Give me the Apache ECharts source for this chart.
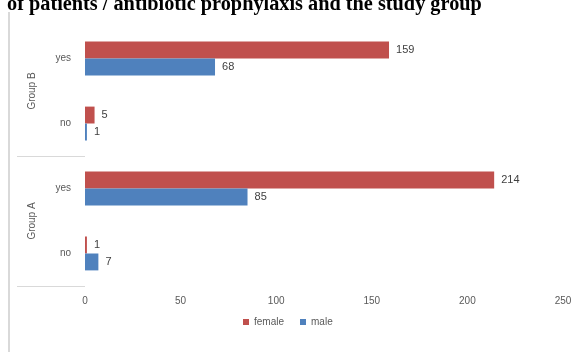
<!DOCTYPE html>
<html>
<head>
<meta charset="utf-8">
<script src="https://cdn.jsdelivr.net/npm/echarts@6/dist/echarts.min.js"></script>
<style>
  html, body { margin: 0; padding: 0; background: #ffffff; }
  #chart { width: 579px; height: 352px; }
</style>
</head>
<body>
<div id="chart"></div>
<script>
// Patients by antibiotic prophylaxis (yes / no), sex and study group
const titleText = 'of patients / antibiotic prophylaxis and the study group';
const groups = ['Group A', 'Group B'];
const answers = ['no', 'yes'];
const seriesNames = ['female', 'male'];
// values ordered bottom to top: Group A no, Group A yes, Group B no, Group B yes
const female = [1, 214, 5, 159];
const male = [7, 85, 1, 68];
const xTicks = [0, 50, 100, 150, 200, 250];

// one category per (group, answer) pair
const categories = [];
groups.forEach(g => answers.forEach(a => categories.push(g + '|' + a)));

const labelFont = 'Liberation Sans, Arial, sans-serif';
const labelColor = '#595959';

const chart = echarts.init(document.getElementById('chart'), null, { renderer: 'canvas' });

function barSeries(name, values, color) {
  return {
    name: name,
    type: 'bar',
    yAxisIndex: 0,
    data: values,
    barGap: '0%',
    barCategoryGap: '48%',
    itemStyle: { color: color },
    label: {
      show: true,
      position: 'right',
      distance: 7,
      color: '#404040',
      fontFamily: labelFont,
      fontSize: 11
    }
  };
}

chart.setOption({
  animation: false,
  backgroundColor: '#ffffff',
  title: {
    text: titleText,
    left: 7,
    top: -5,
    padding: 0,
    textStyle: {
      fontFamily: 'Liberation Serif, Times New Roman, serif',
      fontWeight: 'bold',
      fontSize: 20.3,
      color: '#000000'
    }
  },
  graphic: [{
    type: 'line',
    shape: { x1: 9, y1: 12, x2: 9, y2: 352 },
    style: { stroke: '#d9d9d9', lineWidth: 2 },
    silent: true
  }],
  legend: {
    data: seriesNames,
    bottom: 20,
    left: 238,
    itemWidth: 6,
    itemHeight: 6,
    itemGap: 16,
    icon: 'rect',
    textStyle: { fontFamily: labelFont, fontSize: 10, color: labelColor }
  },
  grid: { left: 85, right: 16, top: 26, bottom: 66, containLabel: false },
  xAxis: {
    type: 'value',
    min: xTicks[0],
    max: xTicks[xTicks.length - 1],
    interval: xTicks[1] - xTicks[0],
    axisLine: { show: false },
    axisTick: { show: false },
    splitLine: { show: false },
    axisLabel: { margin: 10, color: labelColor, fontFamily: labelFont, fontSize: 10 }
  },
  yAxis: [{
    type: 'category',
    data: categories,
    axisLine: { show: false },
    axisTick: { show: false },
    axisLabel: {
      margin: 14,
      color: labelColor,
      fontFamily: labelFont,
      fontSize: 10,
      formatter: v => v.split('|')[1]
    }
  }, {
    // outer level of the two-level category axis
    type: 'value',
    position: 'left',
    min: 0,
    max: groups.length * answers.length,
    axisLine: { show: false },
    splitLine: { show: false },
    axisTick: {
      show: true,
      length: 68,
      customValues: [0, answers.length],
      lineStyle: { color: '#d9d9d9', width: 1 }
    },
    axisLabel: {
      rotate: 90,
      margin: 48,
      color: labelColor,
      fontFamily: labelFont,
      fontSize: 10,
      customValues: groups.map((g, i) => answers.length * i + answers.length / 2),
      formatter: v => groups[Math.round((v - answers.length / 2) / answers.length)]
    }
  }],
  series: [
    barSeries(seriesNames[0], female, '#C0504D'),
    barSeries(seriesNames[1], male, '#4F81BD')
  ]
});
</script>
</body>
</html>
